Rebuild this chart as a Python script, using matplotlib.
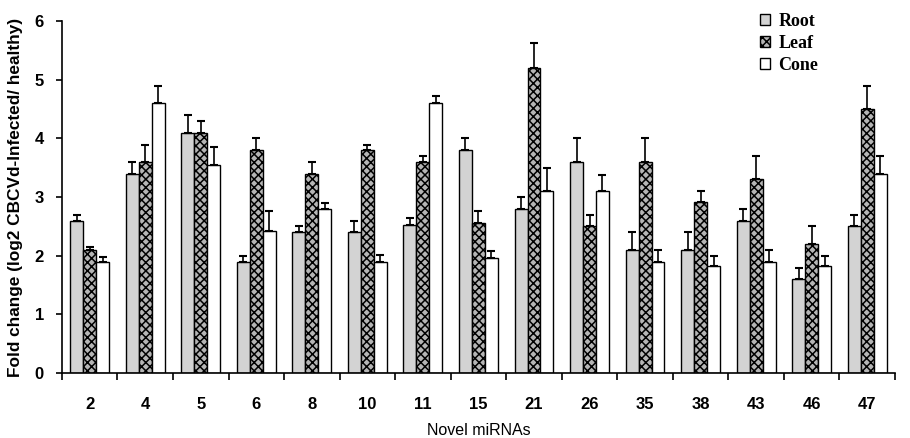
import numpy as np
import matplotlib
matplotlib.use('Agg')
from matplotlib import pyplot as plt

mirnas = ['2', '4', '5', '6', '8', '10', '11', '15', '21', '26', '35', '38', '43', '46', '47']

root = [2.6, 3.4, 4.1, 1.9, 2.4, 2.4, 2.52, 3.8, 2.8, 3.6, 2.1, 2.1, 2.6, 1.6, 2.5]
root_err = [0.1, 0.2, 0.3, 0.1, 0.1, 0.2, 0.13, 0.2, 0.2, 0.4, 0.3, 0.3, 0.2, 0.2, 0.2]

leaf = [2.1, 3.6, 4.1, 3.8, 3.4, 3.8, 3.6, 2.56, 5.2, 2.5, 3.6, 2.92, 3.3, 2.2, 4.5]
leaf_err = [0.05, 0.28, 0.2, 0.2, 0.2, 0.08, 0.1, 0.2, 0.42, 0.2, 0.4, 0.18, 0.4, 0.3, 0.4]

cone = [1.9, 4.6, 3.55, 2.43, 2.8, 1.9, 4.6, 1.96, 3.1, 3.1, 1.9, 1.82, 1.9, 1.82, 3.4]
cone_err = [0.08, 0.3, 0.3, 0.33, 0.1, 0.12, 0.12, 0.12, 0.4, 0.28, 0.2, 0.18, 0.2, 0.18, 0.3]

plt.rcParams['hatch.linewidth'] = 1.1
plt.rcParams['hatch.color'] = '#303030'

fig = plt.figure(figsize=(9.1, 4.38), dpi=100)
ax = fig.add_axes([0.068, 0.148, 0.9155, 0.804])

x = np.arange(len(mirnas))
w = 0.233
err_kw = dict(ecolor='black', elinewidth=1.2, capsize=3, capthick=1.5)

ax.bar(x - w, root, w, yerr=[np.zeros(len(root)), root_err], color='#d3d3d3',
       edgecolor='black', linewidth=1.0, label='Root', error_kw=err_kw)
ax.bar(x, leaf, w, yerr=[np.zeros(len(leaf)), leaf_err], color='#b5b5b5',
       edgecolor='black', linewidth=1.0, hatch='xxxx', label='Leaf', error_kw=err_kw)
ax.bar(x + w, cone, w, yerr=[np.zeros(len(cone)), cone_err], color='white',
       edgecolor='black', linewidth=1.0, label='Cone', error_kw=err_kw)

ax.set_xlim(-0.5, len(mirnas) - 0.5)
ax.set_ylim(0, 6)
ax.set_yticks(range(7))

ax.set_xticks(x)
ax.set_xticklabels(mirnas)
ax.set_xticks(np.arange(len(mirnas) + 1) - 0.5, minor=True)
ax.tick_params(axis='x', which='major', length=0, pad=17)
ax.tick_params(axis='x', which='minor', length=5, width=1.2, direction='out')
ax.tick_params(axis='y', length=4, width=1.2, direction='out', pad=9)
for lab in ax.get_xticklabels() + ax.get_yticklabels():
    lab.set_fontsize(12)
    lab.set_fontweight('bold')
    lab.set_family('Liberation Sans')

for s in ['top', 'right']:
    ax.spines[s].set_visible(False)
for s in ['left', 'bottom']:
    ax.spines[s].set_linewidth(1.2)

ax.set_xlabel('Novel miRNAs', fontsize=11.5, family='Liberation Sans', labelpad=8)
ax.set_ylabel('Fold change (log2 CBCVd-Infected/ healthy)', fontsize=12.4,
              fontweight='bold', family='Liberation Sans', labelpad=8)

ax.legend(loc='upper left', bbox_to_anchor=(0.818, 1.07), frameon=False,
          prop={'family': 'Liberation Serif', 'weight': 'bold', 'size': 13},
          handlelength=0.6, handleheight=0.6, handletextpad=0.45, labelspacing=0.28)

fig.savefig('out.png', dpi=100)
